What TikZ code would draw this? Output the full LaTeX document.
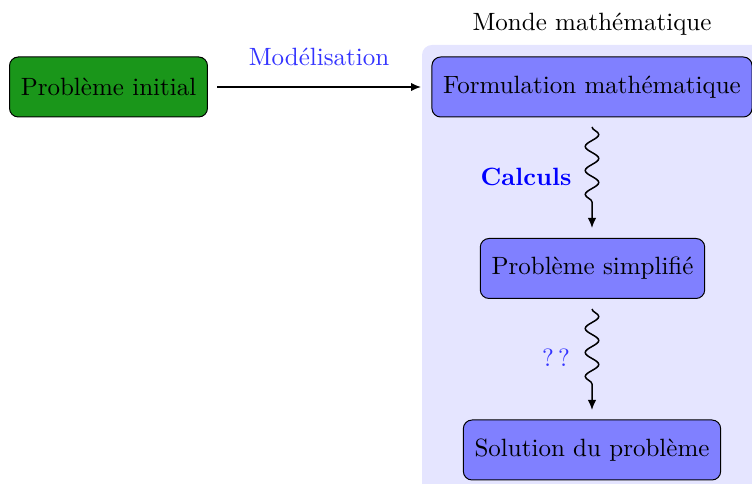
\documentclass[tikz,border=0pt]{standalone}
\usetikzlibrary{decorations.pathmorphing,arrows.meta}
\definecolor{boxgreen}{RGB}{26,150,26}
\tikzset{
  boxnode/.style={draw=black, rounded corners=3.5pt, minimum height=24pt, inner xsep=4.5pt, fill=blue!50},
  greenbox/.style={boxnode, fill=boxgreen},
  mainarrow/.style={-{Latex[length=4pt,width=3.4pt]}, semithick},
  snakearrow/.style={-{Latex[length=4pt,width=3.4pt]}, semithick, decorate,
    decoration={snake, amplitude=2.7pt, segment length=9.6pt, post length=6pt}},
  lbl/.style={text=blue!80}
}
\begin{document}
\begin{tikzpicture}[x=0.4pt,y=-0.4pt]
\useasboundingbox (0,0) rectangle (752,484);
\clip (0,0) rectangle (752,484);
\fill[blue!10, rounded corners=4pt] (422,45) rectangle (780,510);
\node (world) at (592,24) {Monde mathématique};
\node[greenbox, minimum width=78.8pt] (init) at (108.5,87) {Problème initial};
\node[boxnode, minimum width=127.2pt] (form) at (592,87) {Formulation mathématique};
\node[boxnode, minimum width=89.2pt] (simp) at (592.5,268.5) {Problème simplifié};
\node[boxnode, minimum width=102.4pt] (sol) at (592,450) {Solution du problème};
\coordinate (a1) at (217,87);
\coordinate (a2) at (421,87);
\draw[mainarrow] (a1) -- node[lbl, above=5pt] (model) {Modélisation} (a2);
\coordinate (s1) at (592,127);
\coordinate (s2) at (592,228);
\draw[snakearrow] (s1) -- (s2);
\node[text=blue, font=\bfseries] (calc) at (526,177) {Calculs};
\coordinate (t1) at (592,309);
\coordinate (t2) at (592,410);
\draw[snakearrow] (t1) -- (t2);
\node[lbl] (qq) at (556,358) {?\,?};
\end{tikzpicture}
\end{document}
